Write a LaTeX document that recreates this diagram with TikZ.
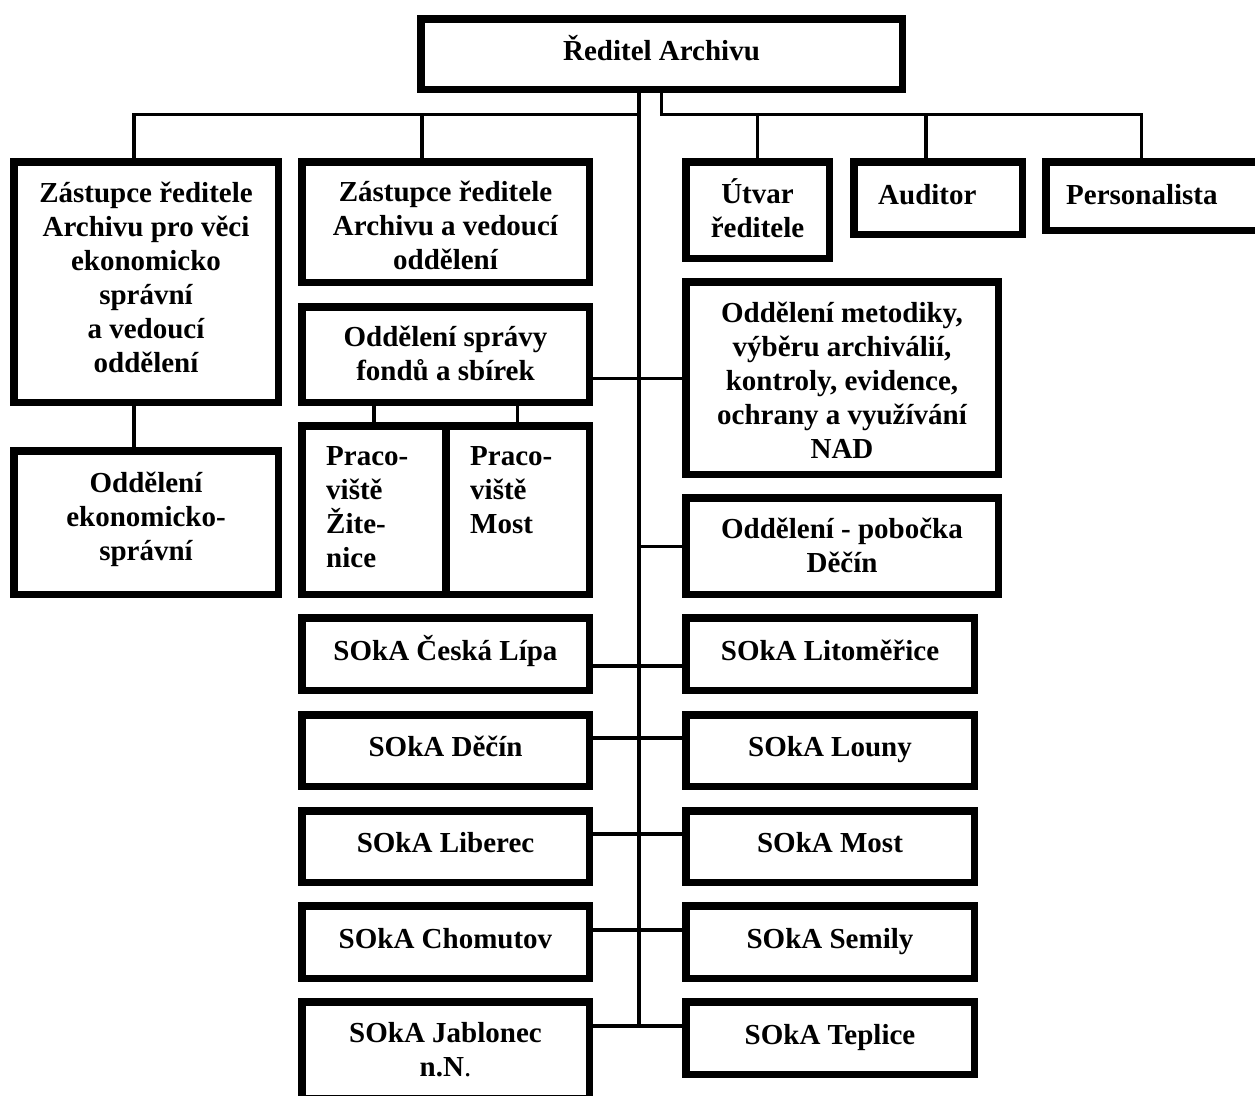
\documentclass[tikz,border=0pt]{standalone}
\usepackage{fontspec}
\setmainfont{Liberation Serif}
\newcommand\myfirst{\rule{0pt}{28pt}}
\newcommand\mylast[1]{\rule[-#1pt]{0pt}{#1pt}}
\begin{document}
\begin{tikzpicture}[x=1pt,y=-1pt,
  box/.style={draw, line width=7.5pt, inner sep=0pt, align=center,
    font=\bfseries\fontsize{29}{34}\selectfont},
  lbl/.style={inner sep=0pt, align=left, font=\bfseries\fontsize{29}{34}\selectfont},
  conn/.style={line width=3.5pt},
  lrow/.style={box, minimum width=287.5pt},
  rrow/.style={box, minimum width=288.5pt}]
\useasboundingbox (0,0) rectangle (1255,1095);
% top
\node[box, minimum width=481.5pt, minimum height=70.5pt] (dir) at (661.5,54)
  {\myfirst Ředitel Archivu\mylast{16}};
% second row
\node[box, minimum width=264.5pt, minimum height=240.5pt] (zr1) at (146,282)
  {\myfirst Zástupce ředitele\\Archivu pro věci\\ekonomicko\\správní\\a vedoucí\\oddělení\mylast{18}};
\node[box, minimum width=287.5pt, minimum height=120.5pt] (zr2) at (445.5,222)
  {\myfirst Zástupce ředitele\\Archivu a vedoucí\\oddělení\mylast{0}};
\node[box, minimum width=143.5pt, minimum height=96.5pt] (utv) at (757.5,210)
  {\myfirst Útvar\\ředitele\mylast{8}};
\node[box, minimum width=168.5pt, minimum height=72.5pt] (aud) at (938,198) {};
\node[lbl, anchor=base west] (audt) at (878,204) {Auditor};
\node[box, minimum width=225.5pt, minimum height=68.5pt] (pers) at (1158.5,196) {};
\node[lbl, anchor=base west] (perst) at (1066,204) {Personalista};
% middle
\node[box, minimum width=287.5pt, minimum height=95.5pt] (spr) at (445.5,354.5)
  {\myfirst Oddělení správy\\fondů a sbírek\mylast{11}};
\node[box, minimum width=144.5pt, minimum height=168.5pt] (pr1) at (374,510) {};
\node[box, minimum width=143.5pt, minimum height=168.5pt] (pr2) at (517.5,510) {};
\node[lbl, anchor=north west] (pr1t) at (326,437) {\myfirst Praco-\\viště\\Žite-\\nice};
\node[lbl, anchor=north west] (pr2t) at (470,437) {\myfirst Praco-\\viště\\Most};
\node[box, minimum width=312.5pt, minimum height=192.5pt] (met) at (842,378)
  {\myfirst Oddělení metodiky,\\výběru archiválií,\\kontroly, evidence,\\ochrany a využívání\\NAD\mylast{4}};
\node[box, minimum width=312.5pt, minimum height=96.5pt] (pob) at (842,546)
  {\myfirst Oddělení - pobočka\\Děčín\mylast{10}};
\node[box, minimum width=264.5pt, minimum height=143.5pt] (eko) at (146,522.5)
  {\myfirst Oddělení\\ekonomicko-\\správní\mylast{21}};
% SOkA rows
\node[lrow, minimum height=72.5pt] (s1l) at (445.5,654) {\myfirst SOkA Česká Lípa\mylast{16}};
\node[rrow, minimum height=72.5pt] (s1r) at (830,654) {\myfirst SOkA Litoměřice\mylast{16}};
\node[lrow, minimum height=71.5pt] (s2l) at (445.5,750.5) {\myfirst SOkA Děčín\mylast{16}};
\node[rrow, minimum height=71.5pt] (s2r) at (830,750.5) {\myfirst SOkA Louny\mylast{16}};
\node[lrow, minimum height=71.5pt] (s3l) at (445.5,846.5) {\myfirst SOkA Liberec\mylast{16}};
\node[rrow, minimum height=71.5pt] (s3r) at (830,846.5) {\myfirst SOkA Most\mylast{16}};
\node[lrow, minimum height=72.5pt] (s4l) at (445.5,942) {\myfirst SOkA Chomutov\mylast{16}};
\node[rrow, minimum height=72.5pt] (s4r) at (830,942) {\myfirst SOkA Semily\mylast{16}};
\node[lrow, minimum height=96.5pt] (s5l) at (445.5,1050) {\myfirst SOkA Jablonec\\n.N{\mdseries.}\mylast{10}};
\node[rrow, minimum height=72.5pt] (s5r) at (830,1038) {\myfirst SOkA Teplice\mylast{16}};
% connector coordinates
\coordinate (tk) at (639,114.5);
\coordinate (jr) at (661.5,114.5);
\coordinate (jp) at (1141.5,114.5);
\coordinate (xa) at (926,114.5);
\coordinate (x1) at (134,114.5);
\coordinate (x2) at (422,114.5);
\coordinate (tend) at (639,1027.75);
% trunk
\draw[conn] (tk |- dir.south) -- (tend);
% left branch
\draw[conn] (x1 |- zr1.north) -- (x1) -- (tk);
\draw[conn] (x2 |- zr2.north) -- (x2);
% right branch
\draw[conn] (jr |- dir.south) -- (jr) -- (jp) -- (jp |- pers.north);
\draw[conn] (utv.north) -- (utv.north |- jr);
\draw[conn] (xa |- aud.north) -- (xa);
% zr1 to eko
\coordinate (ek) at (134,0);
\draw[conn] (ek |- zr1.south) -- (ek |- eko.north);
% sprava to pracoviste
\draw[conn] (pr1.north) -- (pr1.north |- spr.south);
\draw[conn] (pr2.north) -- (pr2.north |- spr.south);
% sprava - metodiky
\coordinate (j0) at (639,378.5);
\draw[conn] (spr.east |- j0) -- (met.west |- j0);
\coordinate (jb) at (639,546.5);
\draw[conn] (jb) -- (pob.west |- jb);
% rows
\coordinate (j1) at (639,666);
\coordinate (j2) at (639,738);
\coordinate (j3) at (639,834);
\coordinate (j4) at (639,930);
\coordinate (j5) at (639,1026);
\draw[conn] (s1l.east |- j1) -- (s1r.west |- j1);
\draw[conn] (s2l.east |- j2) -- (s2r.west |- j2);
\draw[conn] (s3l.east |- j3) -- (s3r.west |- j3);
\draw[conn] (s4l.east |- j4) -- (s4r.west |- j4);
\draw[conn] (s5l.east |- j5) -- (s5r.west |- j5);
\end{tikzpicture}
\end{document}
